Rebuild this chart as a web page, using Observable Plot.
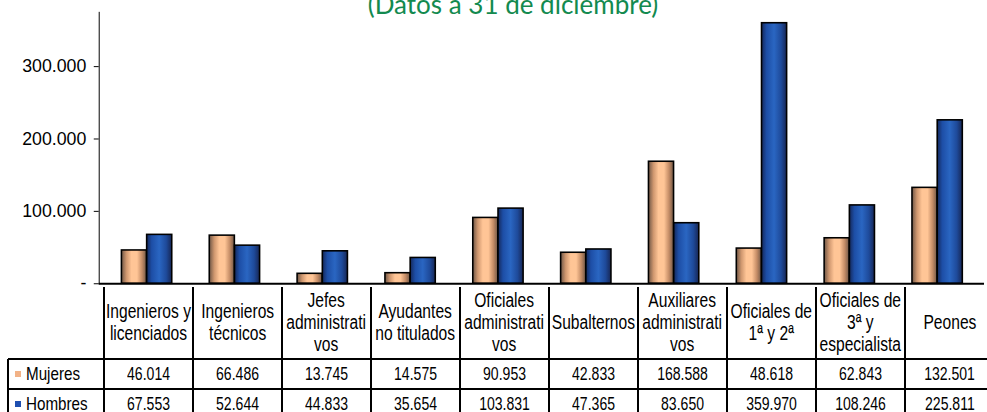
<!DOCTYPE html>
<html>
<head>
<meta charset="utf-8">
<script src="https://cdn.jsdelivr.net/npm/d3@7"></script>
<script src="https://cdn.jsdelivr.net/npm/@observablehq/plot@0.6"></script>
<style>
html, body { margin: 0; padding: 0; background: #fff; overflow: hidden; }
#wrap { position: relative; width: 987px; height: 412px; overflow: hidden; }
#chart { position: absolute; left: 0; top: 0; }
#title { position: absolute; top: -9px; left: 0; width: 1026px; text-align: center;
  font-family: Lato, "Open Sans", sans-serif; font-size: 26px; line-height: 26px;
  color: #138a4f; white-space: nowrap; }
.ln { position: absolute; background: #000; }
.cell { position: absolute; display: flex; align-items: center; justify-content: center;
  text-align: center; font-family: "Liberation Sans", Arial, sans-serif;
  color: #000; white-space: nowrap; }
.cell .sq { display: inline-block; transform: scaleX(0.78); transform-origin: 50% 50%; }
.hdr { font-size: 20px; line-height: 21.7px; }
.val { font-size: 18px; }
.leg { justify-content: flex-start; font-size: 19px; }
.leg .sq { transform-origin: 0 50%; transform: scaleX(0.8); }
.mk { display: inline-block; width: 6px; height: 6px; margin: 0 5px 0 7px; }
</style>
</head>
<body>
<div id="wrap">
  <div id="chart"></div>
  <div id="title">(Datos a 31 de diciembre)</div>
  <div id="table"></div>
</div>
<script>
const categorias = [
  "Ingenieros y\nlicenciados",
  "Ingenieros\ntécnicos",
  "Jefes\nadministrati\nvos",
  "Ayudantes\nno titulados",
  "Oficiales\nadministrati\nvos",
  "Subalternos",
  "Auxiliares\nadministrati\nvos",
  "Oficiales de\n1ª y 2ª",
  "Oficiales de\n3ª y\nespecialista",
  "Peones"
];
const mujeres = [46014, 66486, 13745, 14575, 90953, 42833, 168588, 48618, 62843, 132501];
const hombres = [67553, 52644, 44833, 35654, 103831, 47365, 83650, 359970, 108246, 225811];
const series = ["Mujeres", "Hombres"];
const serieColors = ["#f2b287", "#1f4fb0"];
const yTicks = [0, 100000, 200000, 300000];

const es = d3.formatLocale({decimal: ",", thousands: ".", grouping: [3], currency: ["", " €"]});
const fmt = es.format(",");
const tickFmt = d => d === 0 ? "-" : fmt(d);

const W = 1000, H = 290, ML = 100, MR = 3, MT = 12, MB = 3;
const pInner = 0.43, pOuter = 0.215;
const n = categorias.length;
const stepW = (W - ML - MR) / (n - pInner + 2 * pOuter);
const half = stepW * (1 - pInner) / 2;

const rowsM = categorias.map((c, i) => ({categoria: c, serie: series[0], valor: mujeres[i]}));
const rowsH = categorias.map((c, i) => ({categoria: c, serie: series[1], valor: hombres[i]}));

const plot = Plot.plot({
  width: W, height: H,
  marginLeft: ML, marginRight: MR, marginTop: MT, marginBottom: MB,
  style: {fontFamily: "'Liberation Sans', Arial, sans-serif", fontSize: "18px", color: "#000", background: "transparent"},
  x: {domain: categorias, paddingInner: pInner, paddingOuter: pOuter, axis: null},
  y: {domain: [0, 375000], ticks: yTicks, tickFormat: tickFmt, tickSize: 5, tickPadding: 8, label: null, line: true},
  marks: [
    Plot.barY(rowsM, {x: "categoria", y: "valor", fill: "url(#gradM)", stroke: "#000", strokeWidth: 1.6, insetRight: half}),
    Plot.barY(rowsH, {x: "categoria", y: "valor", fill: "url(#gradH)", stroke: "#000", strokeWidth: 1.6, insetLeft: half}),
    Plot.ruleY([0], {stroke: "#000", strokeWidth: 1.8})
  ]
});

const svg = d3.select(plot);
svg.selectAll("[aria-label='y-axis'] path, [aria-label='y-axis'] line").attr("stroke-width", 1.8);
const defs = svg.insert("defs", ":first-child");
function grad(id, stops) {
  const g = defs.append("linearGradient").attr("id", id)
    .attr("x1", 0).attr("x2", 1).attr("y1", 0).attr("y2", 0);
  stops.forEach(([o, c]) => g.append("stop").attr("offset", o).attr("stop-color", c));
}
grad("gradM", [[0, "#6e5646"], [0.2, "#cf976f"], [0.4, "#ffc596"], [0.62, "#ffc596"], [0.82, "#c48c66"], [1, "#6e5646"]]);
grad("gradH", [[0, "#15285a"], [0.2, "#1d4ea6"], [0.5, "#2a66c2"], [0.78, "#1e4a9a"], [1, "#172654"]]);
document.getElementById("chart").appendChild(plot);

// Data table below the plot, aligned on the Plot x scale
const xs = plot.scale("x");
const bw = xs.bandwidth;
const centers = categorias.map(c => xs.apply(c) + bw / 2);
const st = centers[1] - centers[0];
const bounds = [centers[0] - st / 2, ...centers.map(c => c + st / 2)];
const yTop = H - MB, yHdr = yTop + 72, yR1 = yHdr + 30, yR2 = yR1 + 30;
const tLeft = 8, lw = 1.8;
const tab = d3.select("#table");
function hline(y, x0, x1) {
  tab.append("div").attr("class", "ln").style("left", x0 + "px").style("top", (y - lw / 2) + "px")
    .style("width", (x1 - x0) + "px").style("height", lw + "px");
}
function vline(x, y0, y1) {
  tab.append("div").attr("class", "ln").style("left", (x - lw / 2) + "px").style("top", y0 + "px")
    .style("width", lw + "px").style("height", (y1 - y0) + "px");
}
const xEnd = bounds[bounds.length - 1];
[yHdr, yR1, yR2].forEach(y => hline(y, tLeft, xEnd));
vline(tLeft, yHdr, yR2);
bounds.forEach(b => vline(b, yTop, yR2));
function cell(x0, x1, y0, y1, cls, html) {
  tab.append("div").attr("class", "cell " + cls)
    .style("left", x0 + "px").style("top", y0 + "px")
    .style("width", (x1 - x0) + "px").style("height", (y1 - y0) + "px")
    .html(`<span class="sq">${html}</span>`);
}
categorias.forEach((c, i) => {
  cell(bounds[i], bounds[i + 1], yTop, yHdr, "hdr", c.split("\n").join("<br>"));
  cell(bounds[i], bounds[i + 1], yHdr, yR1, "val", fmt(mujeres[i]));
  cell(bounds[i], bounds[i + 1], yR1, yR2, "val", fmt(hombres[i]));
});
series.forEach((s, k) => {
  const y0 = k === 0 ? yHdr : yR1;
  tab.append("div").attr("class", "cell leg")
    .style("left", tLeft + "px").style("top", y0 + "px")
    .style("width", (bounds[0] - tLeft) + "px").style("height", "30px")
    .html(`<span class="mk" style="background:${serieColors[k]}"></span><span class="sq">${s}</span>`);
});
</script>
</body>
</html>
